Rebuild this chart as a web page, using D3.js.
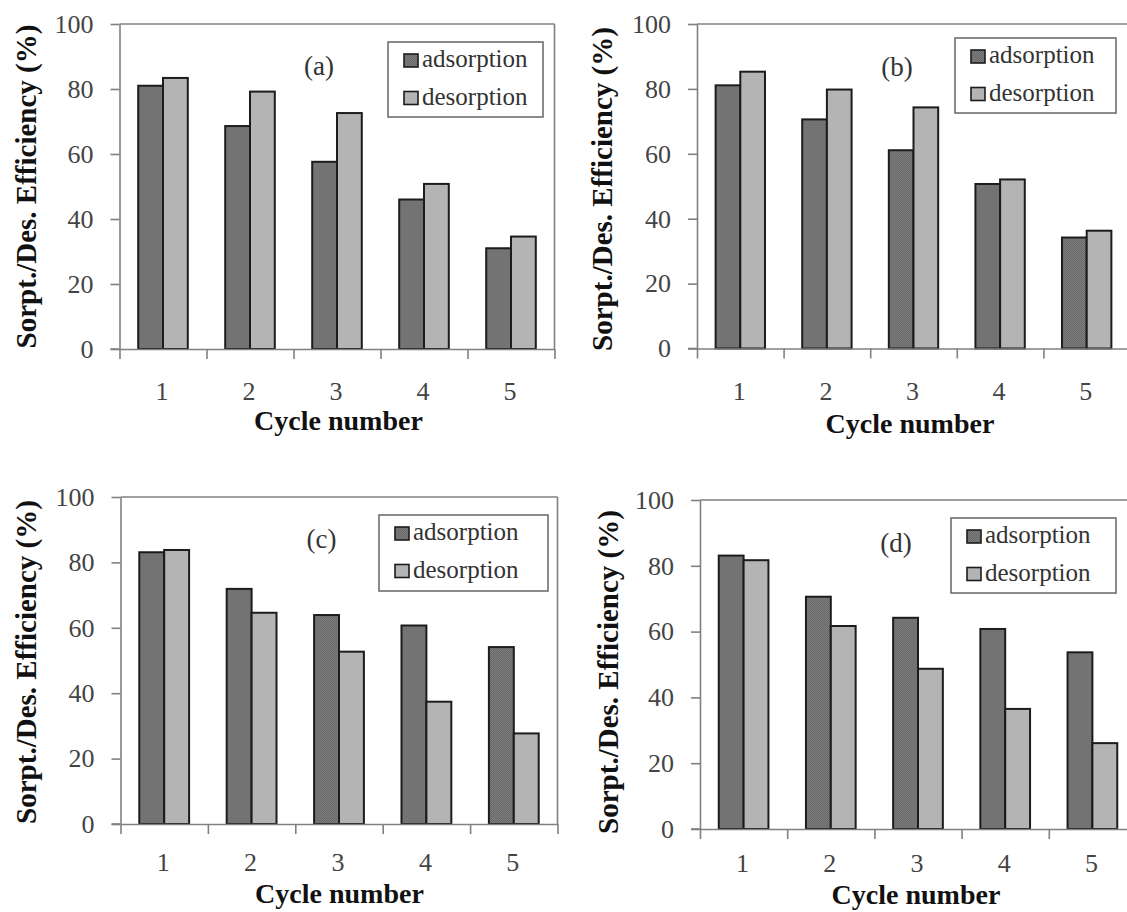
<!DOCTYPE html>
<html lang="en">
<head>
    <meta charset="UTF-8">
    <script src="https://cdn.jsdelivr.net/npm/d3@7"></script>
    <title>Sorption / desorption efficiency over cycles</title>
    <style>
        html,
        body {
            margin: 0px;
            padding: 0px;
            background-color: #ffffff;
        }
        svg {
            display: block;
        }
    </style>
</head>
<body>
    <div id="chart"></div>

    <script>
        // values
        let cycles = ['1', '2', '3', '4', '5'];
        let y_ticks = [0, 20, 40, 60, 80, 100];
        let series_names = ['adsorption', 'desorption'];

        let ads_a = [81.0, 68.6, 57.6, 46.0, 31.0];
        let des_a = [83.4, 79.2, 72.6, 50.8, 34.6];
        let ads_b = [81.1, 70.6, 61.1, 50.7, 34.2];
        let des_b = [85.3, 79.8, 74.3, 52.1, 36.3];
        let ads_c = [83.1, 71.9, 63.9, 60.7, 54.1];
        let des_c = [83.8, 64.6, 52.7, 37.4, 27.7];
        let ads_d = [83.1, 70.6, 64.2, 60.8, 53.7];
        let des_d = [81.7, 61.7, 48.7, 36.5, 26.1];

        let x_title = 'Cycle number';
        let y_title = 'Sorpt./Des. Efficiency (%)';

        let width = 1127;
        let height = 912;
        let serif = '"Liberation Serif", "Times New Roman", Tinos, "DejaVu Serif", serif';

        let panels = [
            { tag: '(a)', ads: ads_a, des: des_a, x0: 119.5, x1: 554.5, top: 24, zero: 349,
              legend: { x: 388, y: 42, w: 155, h: 75 }, tag_pos: [319, 75],
              ytitle: [36, 186.5], tick_base: 400, title_base: 430, title_x: 338.5 },
            { tag: '(b)', ads: ads_b, des: des_b, x0: 697, x1: 1130, top: 24, zero: 348.5,
              legend: { x: 955, y: 38, w: 161, h: 75 }, tag_pos: [897, 76],
              ytitle: [612, 189], tick_base: 400, title_base: 433, title_x: 910 },
            { tag: '(c)', ads: ads_c, des: des_c, x0: 120.5, x1: 557.5, top: 497, zero: 824,
              legend: { x: 379, y: 515, w: 169, h: 76 }, tag_pos: [321.5, 548],
              ytitle: [36, 662], tick_base: 871, title_base: 903, title_x: 339.5 },
            { tag: '(d)', ads: ads_d, des: des_d, x0: 700, x1: 1136, top: 500, zero: 829,
              legend: { x: 951, y: 518, w: 165, h: 75 }, tag_pos: [896, 552],
              ytitle: [618, 672], tick_base: 872, title_base: 904, title_x: 916 }
        ];

        let svg = d3.select('#chart').append('svg')
            .attr('width', width)
            .attr('height', height)
            .attr('font-family', serif);

        svg.append('rect').attr('width', width).attr('height', height).attr('fill', '#fff');

        // whatever serif face we get, scale sizes so widths match Times metrics
        let probe = svg.append('text').attr('font-size', 100).attr('font-family', serif).text('adsorption');
        let measured = probe.node().getComputedTextLength();
        probe.remove();
        let k = measured > 0 ? Math.min(1.05, 422.2 / measured) : 1;
        let fs = (s) => +(s * k).toFixed(2);

        // fine checker texture used by the adsorption bars
        let pat = svg.append('defs').append('pattern')
            .attr('id', 'ads_fill')
            .attr('width', 2).attr('height', 2)
            .attr('patternUnits', 'userSpaceOnUse');
        pat.append('rect').attr('width', 2).attr('height', 2).attr('fill', '#7c7c7c');
        pat.append('rect').attr('width', 1).attr('height', 1).attr('fill', '#6a6a6a');
        pat.append('rect').attr('x', 1).attr('y', 1).attr('width', 1).attr('height', 1).attr('fill', '#6a6a6a');

        let fills = { adsorption: 'url(#ads_fill)', desorption: '#b4b4b4' };
        let axis_col = '#808080';

        function draw_panel(p) {
            let g = svg.append('g');

            let x = d3.scaleBand().domain(cycles).range([p.x0, p.x1])
                .paddingInner(0.43).paddingOuter(0.215);
            let xs = d3.scaleBand().domain(series_names).range([0, x.bandwidth()]);
            let xb = d3.scaleLinear().domain([0, cycles.length]).range([p.x0, p.x1]);
            let y = d3.scaleLinear().domain([0, 100]).range([p.zero, p.top]);

            // plot box: top and right edges
            g.append('line')
                .attr('x1', p.x0).attr('x2', p.x1)
                .attr('y1', y(100)).attr('y2', y(100))
                .attr('stroke', axis_col).attr('stroke-width', 1.6);
            g.append('line')
                .attr('x1', p.x1).attr('x2', p.x1)
                .attr('y1', y(100)).attr('y2', y(0))
                .attr('stroke', axis_col).attr('stroke-width', 1.6);

            // y axis
            let y_axis = g.append('g')
                .attr('transform', `translate(${p.x0},0)`)
                .call(d3.axisLeft(y).tickValues(y_ticks).tickSize(9).tickSizeOuter(0).tickPadding(17));
            y_axis.attr('font-family', serif);
            y_axis.select('.domain').attr('stroke', axis_col).attr('stroke-width', 1.6);
            y_axis.selectAll('.tick line').attr('stroke', axis_col).attr('stroke-width', 1.6);
            y_axis.selectAll('.tick text')
                .attr('font-family', serif)
                .attr('font-size', fs(26))
                .attr('fill', '#444');

            // bars
            let rows = cycles.map((c, i) => ({ cycle: c, adsorption: p.ads[i], desorption: p.des[i] }));
            g.append('g').selectAll('g')
                .data(rows)
                .join('g')
                .attr('transform', (d) => `translate(${x(d.cycle)},0)`)
                .selectAll('rect')
                .data((d) => series_names.map((key) => ({ key: key, value: d[key] })))
                .join('rect')
                .attr('x', (d) => xs(d.key))
                .attr('y', (d) => y(d.value))
                .attr('width', xs.bandwidth())
                .attr('height', (d) => y(0) - y(d.value))
                .attr('fill', (d) => fills[d.key])
                .attr('stroke', '#1c1c1c')
                .attr('stroke-width', 2);

            // x axis with ticks between categories
            let x_axis = g.append('g')
                .attr('transform', `translate(0,${y(0)})`)
                .call(d3.axisBottom(xb).tickValues(d3.range(cycles.length + 1)).tickSize(10).tickSizeOuter(0).tickFormat(''));
            x_axis.select('.domain').attr('stroke', axis_col).attr('stroke-width', 1.6);
            x_axis.selectAll('.tick line').attr('stroke', axis_col).attr('stroke-width', 1.6);
            g.append('line')
                .attr('x1', p.x0 - 9).attr('x2', p.x0)
                .attr('y1', y(0)).attr('y2', y(0))
                .attr('stroke', axis_col).attr('stroke-width', 1.6);

            g.append('g').selectAll('text')
                .data(cycles)
                .join('text')
                .attr('x', (d) => x(d) + x.bandwidth() / 2 - 1)
                .attr('y', p.tick_base)
                .attr('text-anchor', 'middle')
                .attr('font-size', fs(26))
                .attr('fill', '#444')
                .text((d) => d);

            // axis titles
            g.append('text')
                .attr('x', p.title_x)
                .attr('y', p.title_base)
                .attr('text-anchor', 'middle')
                .attr('font-size', fs(28))
                .attr('font-weight', 'bold')
                .attr('fill', '#111')
                .text(x_title);
            g.append('text')
                .attr('transform', `translate(${p.ytitle[0]},${p.ytitle[1]}) rotate(-90)`)
                .attr('text-anchor', 'middle')
                .attr('font-size', fs(29))
                .attr('font-weight', 'bold')
                .attr('fill', '#111')
                .text(y_title);

            // panel tag
            g.append('text')
                .attr('x', p.tag_pos[0])
                .attr('y', p.tag_pos[1])
                .attr('text-anchor', 'middle')
                .attr('font-size', fs(27))
                .attr('fill', '#333')
                .text(p.tag);

            // legend
            let lg = g.append('g').attr('transform', `translate(${p.legend.x},${p.legend.y})`);
            lg.append('rect')
                .attr('width', p.legend.w).attr('height', p.legend.h)
                .attr('fill', '#fff')
                .attr('stroke', '#666').attr('stroke-width', 1.5);
            let items = lg.selectAll('g')
                .data(series_names)
                .join('g')
                .attr('transform', (d, i) => `translate(16,${12 + i * 37.5})`);
            items.append('rect')
                .attr('width', 14).attr('height', 13)
                .attr('fill', (d) => fills[d])
                .attr('stroke', '#1c1c1c').attr('stroke-width', 1.6);
            items.append('text')
                .attr('x', 18)
                .attr('y', 13)
                .attr('font-size', fs(25))
                .attr('fill', '#333')
                .text((d) => d);
        }

        panels.forEach(draw_panel);
    </script>
</body>
</html>
